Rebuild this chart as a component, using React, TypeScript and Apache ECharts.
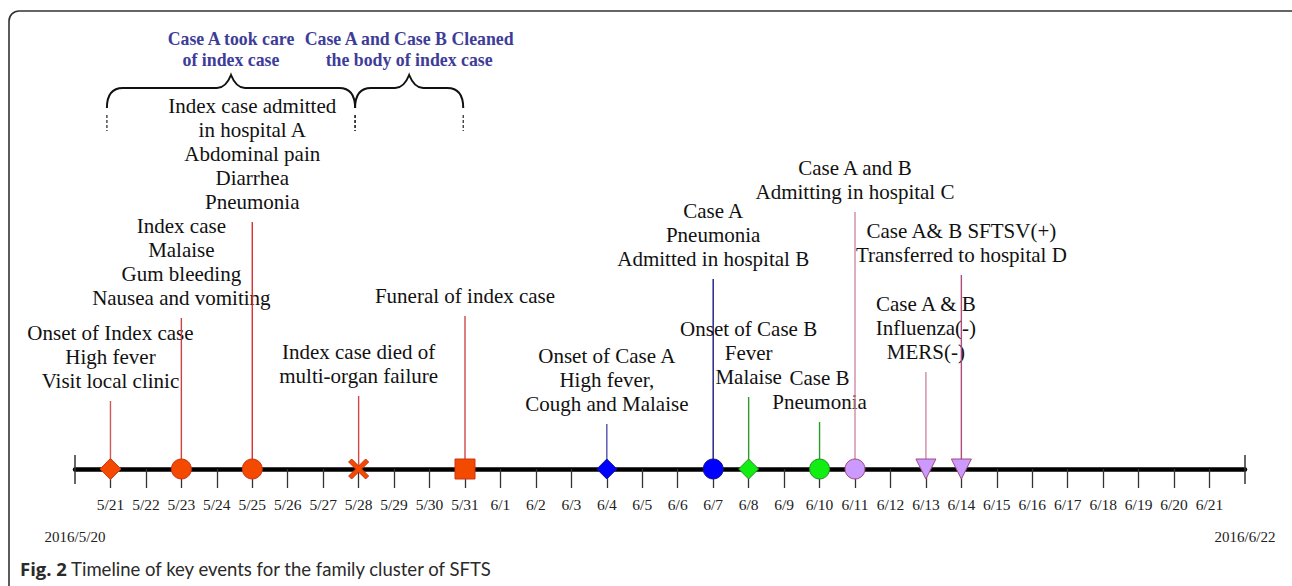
import React, { useEffect, useRef } from "react";
import * as echarts from "echarts";

// ---- data ----
const tickLabels = [
  "5/21", "5/22", "5/23", "5/24", "5/25", "5/26", "5/27", "5/28", "5/29", "5/30", "5/31",
  "6/1", "6/2", "6/3", "6/4", "6/5", "6/6", "6/7", "6/8", "6/9", "6/10", "6/11",
  "6/12", "6/13", "6/14", "6/15", "6/16", "6/17", "6/18", "6/19", "6/20", "6/21",
];
const rangeDays = [0, 33];
const rangeLabels = ["2016/5/20", "2016/6/22"];

const eventDays = [1, 3, 5, 8, 11, 15, 18, 19, 21, 22, 24, 25];
const stemHeights = [68, 151, 247, 73, 153, 45, 190, 72, 47, 257, 97, 194];
const eventTexts = [
  "Onset of Index case\nHigh fever\nVisit local clinic",
  "Index case\nMalaise\nGum bleeding\nNausea and vomiting",
  "Index case admitted\nin hospital A\nAbdominal pain\nDiarrhea\nPneumonia",
  "Index case died of\nmulti-organ failure",
  "Funeral of index case",
  "Onset of Case A\nHigh fever,\nCough and Malaise",
  "Case A\nPneumonia\nAdmitted in hospital B",
  "Onset of Case B\nFever\nMalaise",
  "Case B\nPneumonia",
  "Case A and B\nAdmitting in hospital C",
  "Case A & B\nInfluenza(-)\nMERS(-)",
  "Case A& B SFTSV(+)\nTransferred to hospital D",
];

const braceStarts = [0.9, 7.9];
const braceEnds = [7.9, 10.95];
const braceTexts = [
  "Case A took care\nof index case",
  "Case A and Case B Cleaned\nthe body of index case",
];

const captionBold = "Fig. 2";
const captionText = " Timeline of key events for the family cluster of SFTS";

// ---- styles ----
const XPATH =
  "path://M3,0 L10,7 L17,0 L20,3 L13,10 L20,17 L17,20 L10,13 L3,20 L0,17 L7,10 L0,3 Z";
const ORANGE = { fill: "#f44a00", border: "#c8341a" };
const BLUE = { fill: "#0000ff", border: "#16168a" };
const GREEN = { fill: "#11ee11", border: "#2a8a2a" };
const PURPLE = { fill: "#cc99ff", border: "#a04a80" };
const markerStyles = [
  { symbol: "diamond", size: 21, rotate: 0, c: ORANGE, stem: "#d25858" },
  { symbol: "circle", size: 20, rotate: 0, c: ORANGE, stem: "#cc4040" },
  { symbol: "circle", size: 20, rotate: 0, c: ORANGE, stem: "#d83030" },
  { symbol: XPATH, size: 20, rotate: 0, c: ORANGE, stem: "#d04848" },
  { symbol: "rect", size: 20, rotate: 0, c: ORANGE, stem: "#d04848" },
  { symbol: "diamond", size: 20, rotate: 0, c: BLUE, stem: "#5050b0" },
  { symbol: "circle", size: 20, rotate: 0, c: BLUE, stem: "#1a1a80" },
  { symbol: "diamond", size: 20, rotate: 0, c: GREEN, stem: "#2a9a2a" },
  { symbol: "circle", size: 20, rotate: 0, c: GREEN, stem: "#2a9a2a" },
  { symbol: "circle", size: 20, rotate: 0, c: PURPLE, stem: "#d08aa8" },
  { symbol: "triangle", size: 20, rotate: 180, c: PURPLE, stem: "#d08aa8" },
  { symbol: "triangle", size: 20, rotate: 180, c: PURPLE, stem: "#b04a7a" },
];

const SERIF = "Liberation Serif";
const W = 1292;
const H = 586;
const AXIS_Y = 469;
const X0 = 75;
const X1 = 1245;

// brace levels, in pixels above the axis
const BRACE_BOTTOM = AXIS_Y - 108;
const BRACE_LINE = AXIS_Y - 88;
const BRACE_PEAK = AXIS_Y - 75;
const DASH_TOP = AXIS_Y - 115;
const DASH_BOTTOM = AXIS_Y - 131;

export default function App() {
  const ref = useRef<HTMLDivElement>(null);

  useEffect(() => {
    if (!ref.current) return;
    const chart = echarts.init(ref.current, undefined, { renderer: "svg" });
    const tickVals = tickLabels.map((_, i) => i + 1);

    const option: any = {
      animation: false,
      backgroundColor: "#ffffff",
      grid: { left: X0, right: W - X1, top: 0, bottom: H - AXIS_Y, containLabel: false },
      xAxis: {
        type: "value",
        min: rangeDays[0],
        max: rangeDays[1],
        splitLine: { show: false },
        axisLine: { show: true, onZero: false, lineStyle: { color: "#000", width: 4.5 } },
        axisTick: {
          show: true,
          customValues: tickVals,
          length: 19,
          lineStyle: { color: "#333", width: 1.3 },
        },
        axisLabel: {
          show: true,
          customValues: tickVals,
          formatter: (v: number) => tickLabels[Math.round(v) - 1] ?? "",
          margin: 27,
          fontSize: 15.5,
          fontFamily: SERIF,
          color: "#222",
        },
      },
      yAxis: {
        type: "value",
        min: 0,
        max: AXIS_Y,
        show: false,
      },
      graphic: [
        {
          type: "rect",
          shape: { x: 9, y: 11, width: 1295, height: 700, r: 10 },
          style: { fill: "none", stroke: "#333", lineWidth: 1.6 },
          silent: true,
        },
        {
          type: "text",
          left: 20,
          top: 559,
          style: {
            text: `{b|${captionBold}}${captionText}`,
            fontFamily: "Lato",
            fontSize: 18.5,
            fill: "#2a2a2a",
            rich: {
              b: { fontWeight: "bold", fontSize: 18.5, fontFamily: "Open Sans", fill: "#2a2a2a" },
            },
          },
        },
      ],
      series: [
        // end ticks + range labels
        {
          type: "custom",
          silent: true,
          data: rangeDays.map((d, i) => [d, 0, i]),
          renderItem: (params: any, api: any) => {
            const p = api.coord([api.value(0), 0]);
            const i = api.value(2);
            return {
              type: "group",
              children: [
                {
                  type: "line",
                  shape: { x1: p[0], y1: p[1] - 14, x2: p[0], y2: p[1] + 15 },
                  style: { stroke: "#333", lineWidth: 1.5 },
                },
                {
                  type: "text",
                  x: p[0],
                  y: p[1] + 68,
                  style: {
                    text: rangeLabels[i],
                    fontFamily: SERIF,
                    fontSize: 15,
                    fill: "#222",
                    align: "center",
                    verticalAlign: "middle",
                  },
                },
              ],
            };
          },
        },
        // stems + labels
        {
          type: "custom",
          silent: true,
          z: 2,
          data: eventDays.map((d, i) => [d, stemHeights[i], i]),
          renderItem: (params: any, api: any) => {
            const i = api.value(2);
            const base = api.coord([api.value(0), 0]);
            const top = api.coord([api.value(0), api.value(1)]);
            return {
              type: "group",
              children: [
                {
                  type: "line",
                  shape: { x1: base[0], y1: base[1], x2: top[0], y2: top[1] },
                  style: { stroke: markerStyles[i].stem, lineWidth: 1.4 },
                },
                {
                  type: "text",
                  x: top[0],
                  y: top[1] - 8,
                  style: {
                    text: eventTexts[i],
                    fontFamily: SERIF,
                    fontSize: 21,
                    lineHeight: 24,
                    fill: "#111",
                    align: "center",
                    verticalAlign: "bottom",
                  },
                },
              ],
            };
          },
        },
        // markers
        {
          type: "scatter",
          z: 5,
          silent: true,
          data: eventDays.map((d, i) => ({
            value: [d, 0],
            symbol: markerStyles[i].symbol,
            symbolSize: markerStyles[i].size,
            symbolRotate: markerStyles[i].rotate,
            itemStyle: {
              color: markerStyles[i].c.fill,
              borderColor: markerStyles[i].c.border,
              borderWidth: 1,
              opacity: 1,
            },
          })),
        },
        // braces
        {
          type: "custom",
          silent: true,
          data: braceStarts.map((s, i) => [s, braceEnds[i], i]),
          renderItem: (params: any, api: any) => {
            const i = api.value(2);
            const a = api.coord([api.value(0), BRACE_BOTTOM]);
            const b = api.coord([api.value(1), BRACE_BOTTOM]);
            const yl = api.coord([api.value(0), BRACE_LINE])[1];
            const yp = api.coord([api.value(0), BRACE_PEAK])[1];
            const yd1 = api.coord([api.value(0), DASH_TOP])[1];
            const yd2 = api.coord([api.value(0), DASH_BOTTOM])[1];
            const x0 = a[0];
            const x1 = b[0];
            const yb = a[1];
            const xp = (x0 + x1) / 2;
            const rx = 16;
            const d =
              `M${x0},${yb} C${x0},${yb - 12} ${x0 + 4},${yl} ${x0 + rx},${yl} ` +
              `L${xp - 14},${yl} C${xp - 6},${yl} ${xp - 2},${yp + 5} ${xp},${yp} ` +
              `C${xp + 2},${yp + 5} ${xp + 6},${yl} ${xp + 14},${yl} ` +
              `L${x1 - rx},${yl} C${x1 - 4},${yl} ${x1},${yb - 12} ${x1},${yb}`;
            return {
              type: "group",
              children: [
                {
                  type: "path",
                  shape: { pathData: d },
                  style: { fill: "none", stroke: "#111", lineWidth: 2 },
                },
                {
                  type: "line",
                  shape: { x1: x0, y1: yd1, x2: x0, y2: yd2 },
                  style: { stroke: "#222", lineWidth: 1.2, lineDash: [3, 2] },
                },
                {
                  type: "line",
                  shape: { x1: x1, y1: yd1, x2: x1, y2: yd2 },
                  style: { stroke: "#222", lineWidth: 1.2, lineDash: [3, 2] },
                },
                {
                  type: "text",
                  x: xp,
                  y: yp - 5,
                  style: {
                    text: braceTexts[i],
                    fontFamily: SERIF,
                    fontWeight: "bold",
                    fontSize: 17.8,
                    lineHeight: 21,
                    fill: "#3d3d99",
                    align: "center",
                    verticalAlign: "bottom",
                  },
                },
              ],
            };
          },
        },
      ],
    };

    chart.setOption(option);
    return () => chart.dispose();
  }, []);

  return (
    <div
      ref={ref}
      style={{ position: "absolute", left: 0, top: 0, width: W, height: H }}
    />
  );
}
